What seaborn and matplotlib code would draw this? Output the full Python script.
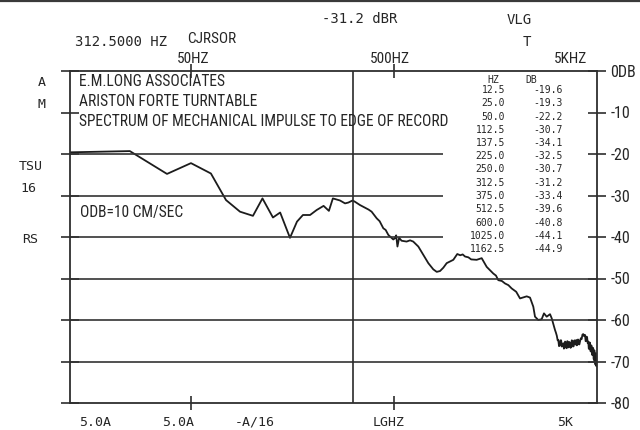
import matplotlib
matplotlib.use("Agg")
import matplotlib.pyplot as plt
import matplotlib.font_manager as fm
import seaborn as sns
import pandas as pd

# --- measured spectrum (frequency in Hz, level in dB re 10 cm/s) ---
freq_hz = [
    12.5, 25, 38.1, 50, 62.7, 74.4, 87.2, 101, 112.5, 126.7, 137.5, 153.7,
    166.4, 178, 193, 208, 225, 239, 250, 271, 287, 298, 312.5, 321, 340,
    375, 388, 411, 425, 443, 455, 469, 496, 505, 512.5, 520, 530, 545, 577, 600, 622,
    659, 697, 738, 781, 812, 843, 875, 909, 980, 1025, 1060, 1090, 1119, 1162.5, 1200,
    1277, 1352, 1431, 1542, 1590, 1632, 1700, 1762, 1830, 1900, 2000, 2088, 2253, 2339, 2428, 2475,
    2569, 2670, 2740, 2826, 2935, 2992, 3105, 3140, 3170, 3200, 3224, 3250, 3280, 3305,
    3330, 3355, 3380, 3412, 3435, 3460, 3480, 3500, 3525, 3546, 3570, 3590, 3615,
    3640, 3660, 3681, 3705, 3730, 3755, 3780, 3810, 3840, 3870, 3896, 3920, 3950,
    3975, 4000, 4030, 4060, 4090, 4124, 4160, 4200, 4240, 4280, 4320, 4365, 4395,
    4420, 4445, 4470, 4500, 4531, 4555, 4580, 4600, 4620, 4640, 4660, 4685, 4709,
    4730, 4750, 4770, 4790, 4810, 4830, 4845, 4860, 4873, 4886, 4900, 4920, 4935,
    4950, 4965, 4980, 4990, 5000,
]
level_db = [
    -19.6, -19.3, -24.8, -22.2, -24.7, -31.1, -33.9, -34.9, -30.7, -35.3, -34.1, -40.2,
    -36.3, -34.7, -34.7, -33.5, -32.5, -33.7, -30.7, -31.2, -31.9, -31.7, -31.2, -31.5, -32.3,
    -33.4, -33.9, -35.5, -36.2, -37.9, -38.3, -39.5, -40.6, -40.3, -39.6, -42.3, -40.2, -40.9, -41.1, -40.8, -41.1,
    -42.3, -44.3, -46.3, -47.8, -48.4, -48.2, -47.4, -46.3, -45.5, -44.1, -44.4, -44.2, -44.7, -44.9, -45.4,
    -45.5, -45.1, -47.2, -48.8, -49.3, -50.4, -50.6, -51.2, -51.6, -52.4, -53.2, -54.8, -54.3, -54.6, -56.8, -59.2,
    -60.0, -59.8, -58.4, -59.2, -58.6, -59.6, -62.4, -63.1, -63.8, -64.9, -64.8, -66.3, -66.2, -64.9,
    -64.9, -66.4, -66.0, -65.6, -66.9, -66.6, -65.2, -65.4, -66.7, -66.8, -65.1, -65.2, -66.6,
    -66.4, -65.3, -65.6, -66.7, -66.5, -64.9, -65.0, -66.4, -66.3, -64.9, -65.6, -65.9, -64.8,
    -66.1, -66.0, -64.7, -64.9, -65.9, -65.2, -64.4, -64.6, -63.5, -63.4, -63.9, -63.6, -65.1,
    -65.0, -64.0, -64.2, -65.6, -65.2, -66.9, -67.0, -65.4, -65.6, -67.4, -67.6, -66.1, -66.4,
    -68.4, -68.4, -66.7, -66.8, -69.3, -69.6, -67.3, -67.4, -69.8, -68.2, -70.4, -70.8, -68.1,
    -68.0, -71.0, -71.2, -68.6, -69.2,
]

# --- marker table printed by the analyzer ---
table_hz = ["12.5", "25.0", "50.0", "112.5", "137.5", "225.0", "250.0",
            "312.5", "375.0", "512.5", "600.0", "1025.0", "1162.5"]
table_db = [-19.6, -19.3, -22.2, -30.7, -34.1, -32.5, -30.7,
            -31.2, -33.4, -39.6, -40.8, -44.1, -44.9]

title_lines = ["E.M.LONG ASSOCIATES",
               "ARISTON FORTE TURNTABLE",
               "SPECTRUM OF MECHANICAL IMPULSE TO EDGE OF RECORD"]
cursor_hz = 312.5
cursor_db = -31.2

y_levels = [0, -10, -20, -30, -40, -50, -60, -70, -80]
y_labels = ["0DB", "-10", "-20", "-30", "-40", "-50", "-60", "-70", "-80"]
short_grid = [-20, -30, -40]
long_grid = [-50, -60, -70]
top_ticks = [50, 500]
top_tick_labels = ["50HZ", "500HZ", "5KHZ"]
bottom_labels = ["5.0A", "5.0A", "-A/16", "LGHZ", "5K"]
side_labels = ["A", "M", "TSU", "16", "RS"]


def pick_font(names):
    for n in names:
        try:
            fm.findfont(fm.FontProperties(family=n), fallback_to_default=False)
            return n
        except Exception:
            pass
    return "DejaVu Sans"


sns.set_theme(style="white")
NARROW = pick_font(["Liberation Sans Narrow", "Roboto Condensed", "DejaVu Sans"])
MONO = "DejaVu Sans Mono"
plt.rcParams["font.family"] = [NARROW, "DejaVu Sans"]

INK = "#262626"
W, H = 640, 430
fig = plt.figure(figsize=(W / 100, H / 100), dpi=100, facecolor="white")
ax = fig.add_axes([70 / W, 1 - 403 / H, (597 - 70) / W, (403 - 71) / H])
ax.set_facecolor("white")

df = pd.DataFrame({"Frequency (Hz)": freq_hz, "Level (dB)": level_db})
sns.lineplot(data=df, x="Frequency (Hz)", y="Level (dB)", ax=ax,
             color="#1c1c1c", linewidth=1.3, estimator=None, sort=False)

ax.set_xscale("log")
ax.set_xlim(12.68, 5000)
ax.set_ylim(-80, 0)
ax.set_xlabel("")
ax.set_ylabel("")

# graticule
ax.hlines(short_grid, 12.68, 870, color="#333333", linewidth=1.2)
ax.hlines(long_grid, 12.68, 5000, color="#333333", linewidth=1.2)
ax.axvline(cursor_hz, color="#2a2a2a", linewidth=1.2)

for s in ax.spines.values():
    s.set_color("#2e2e2e")
    s.set_linewidth(1.3)

ax.set_yticks(y_levels)
ax.set_yticklabels(y_labels)
ax.tick_params(axis="y", left=True, right=True, labelleft=False, labelright=True,
               direction="inout", length=13, width=1.2, color="#2e2e2e",
               pad=3, labelsize=11.5, labelcolor=INK)
ax.set_xticks(top_ticks)
ax.set_xticklabels([])
ax.xaxis.set_minor_locator(matplotlib.ticker.NullLocator())
ax.tick_params(axis="x", top=True, bottom=True, labelbottom=False, labeltop=False,
               direction="inout", length=10, width=1.2, color="#2e2e2e")


def ftext(x, y, s, **kw):
    fig.text(x / W, 1 - y / H, s, va="center", color=INK, **kw)


# analyzer status line
ftext(75, 42, "%.4f HZ" % cursor_hz, family=MONO, fontsize=10, ha="left")
ftext(187, 39, "CJRSOR", fontsize=11, ha="left")
ftext(322, 19, "%.1f dBR" % cursor_db, family=MONO, fontsize=10, ha="left")
ftext(507, 20, "VLG", family=MONO, fontsize=10, ha="left")
ftext(527, 42, "T", family=MONO, fontsize=10, ha="center")

# frequency scale labels
ftext(193, 59, top_tick_labels[0], fontsize=11, ha="center")
ftext(390, 59, top_tick_labels[1], fontsize=11, ha="center")
ftext(587, 59, top_tick_labels[2], fontsize=11, ha="right")

# soft-key labels along the bottom and left
for x, s in zip([95, 178, 255, 389, 565], bottom_labels):
    ftext(x, 422, s, family=MONO, fontsize=9.5, ha="center")
for (x, y), s in zip([(42, 83), (42, 104), (31, 166), (28, 188), (30, 239)], side_labels):
    ftext(x, y, s, family=MONO, fontsize=9.5, ha="center")

# plot annotation
for i, line in enumerate(title_lines):
    ftext(79, 82 + 19.5 * i, line, fontsize=11.2, ha="left")
ftext(80, 213, "ODB=10 CM/SEC", fontsize=11.2, ha="left")

# marker table
ftext(493, 80, "HZ", family=MONO, fontsize=7, ha="center")
ftext(531, 80, "DB", family=MONO, fontsize=7, ha="center")
for i, (hz, db) in enumerate(zip(table_hz, table_db)):
    y = 90 + 13.25 * i
    ftext(505, y, hz, family=MONO, fontsize=7, ha="right")
    ftext(563, y, "%.1f" % db, family=MONO, fontsize=7, ha="right")

# dark edge along the top of the sheet
fig.add_artist(matplotlib.lines.Line2D([0, 1], [1 - 1 / H, 1 - 1 / H],
                                       transform=fig.transFigure,
                                       color="#3a3a3a", linewidth=1.6))

fig.savefig("out.png", dpi=100, facecolor="white")
